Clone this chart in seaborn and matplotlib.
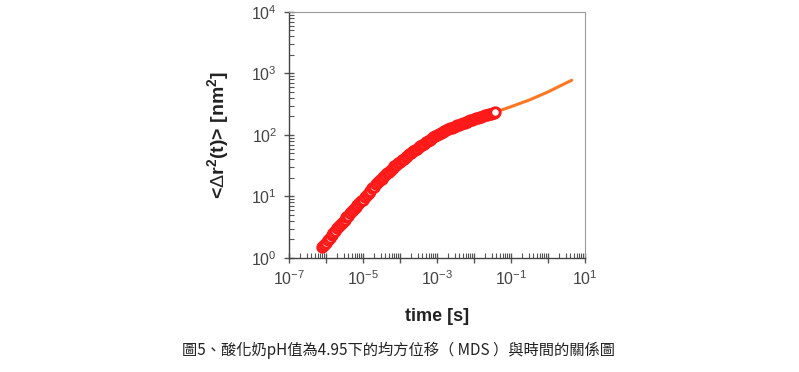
import numpy as np
import pandas as pd
import seaborn as sns
import matplotlib.pyplot as plt
from matplotlib.ticker import LogLocator, FixedLocator

# 데이터 (log10 값, 그림에서 읽음)
red_log_t = [-6.10, -6.05, -6.00, -5.95, -5.90, -5.85, -5.80, -5.75, -5.70, -5.65,
             -5.60, -5.55, -5.50, -5.45, -5.40, -5.35, -5.30, -5.25, -5.20, -5.15,
             -5.10, -5.05, -5.00, -4.95, -4.90, -4.85, -4.80, -4.75, -4.70, -4.65,
             -4.60, -4.55, -4.50, -4.45, -4.40, -4.35, -4.30, -4.25, -4.20, -4.15,
             -4.10, -4.05, -4.00, -3.95, -3.90, -3.85, -3.80, -3.75, -3.70, -3.65,
             -3.60, -3.55, -3.50, -3.45, -3.40, -3.35, -3.30, -3.25, -3.20, -3.15,
             -3.10, -3.05, -3.00, -2.95, -2.90, -2.85, -2.80, -2.75, -2.70, -2.65,
             -2.60, -2.55, -2.50, -2.45, -2.40, -2.35, -2.30, -2.25, -2.20, -2.15,
             -2.10, -2.05, -2.00, -1.95, -1.90, -1.85, -1.80, -1.75, -1.70, -1.65,
             -1.60, -1.55, -1.50, -1.45, -1.43]
red_log_msd = [0.18, 0.21, 0.25, 0.29, 0.33, 0.37, 0.40, 0.44, 0.48, 0.52,
               0.55, 0.59, 0.62, 0.66, 0.69, 0.73, 0.76, 0.80, 0.83, 0.86,
               0.89, 0.92, 0.95, 0.99, 1.02, 1.06, 1.09, 1.13, 1.16, 1.20,
               1.23, 1.26, 1.29, 1.32, 1.35, 1.38, 1.40, 1.43, 1.46, 1.49,
               1.51, 1.54, 1.56, 1.59, 1.61, 1.64, 1.66, 1.69, 1.71, 1.74,
               1.76, 1.78, 1.80, 1.82, 1.84, 1.86, 1.88, 1.90, 1.92, 1.94,
               1.96, 1.98, 2.00, 2.02, 2.03, 2.05, 2.06, 2.08, 2.09, 2.11,
               2.12, 2.13, 2.14, 2.16, 2.17, 2.18, 2.19, 2.20, 2.21, 2.23,
               2.24, 2.25, 2.26, 2.27, 2.28, 2.29, 2.30, 2.31, 2.32, 2.33,
               2.34, 2.345, 2.35, 2.36, 2.37]
orange_log_t = [-1.43, -1.0, -0.5, 0.0, 0.3, 0.64]
orange_log_msd = [2.37, 2.46, 2.57, 2.70, 2.79, 2.89]

x_ticks = [1e-7, 1e-6, 1e-5, 1e-4, 1e-3, 1e-2, 1e-1, 1e0, 1e1]
x_tick_labels = ['$10^{-7}$', '', '$10^{-5}$', '', '$10^{-3}$', '', '$10^{-1}$', '', '$10^{1}$']
y_ticks = [1e0, 1e1, 1e2, 1e3, 1e4]
y_tick_labels = ['$10^{0}$', '$10^{1}$', '$10^{2}$', '$10^{3}$', '$10^{4}$']
caption = '圖5、酸化奶pH值為4.95下的均方位移（ MDS ）與時間的關係圖'

red = pd.DataFrame({'t': 10 ** np.array(red_log_t), 'msd': 10 ** np.array(red_log_msd)})
orange = pd.DataFrame({'t': 10 ** np.array(red_log_t + orange_log_t[1:]),
                       'msd': 10 ** np.array(red_log_msd + orange_log_msd[1:])})

sns.set_style('white')
plt.rcParams['font.family'] = ['Liberation Sans', 'DejaVu Sans']
plt.rcParams['mathtext.fontset'] = 'custom'
plt.rcParams['mathtext.rm'] = 'Liberation Sans'
plt.rcParams['mathtext.bf'] = 'Liberation Sans:bold'

fig = plt.figure(figsize=(7.99, 3.72), dpi=100)
ax = fig.add_axes([0.3617, 0.3065, 0.3705, 0.6613])

sns.lineplot(data=orange, x='t', y='msd', color='#ff7722', linewidth=2.2, ax=ax)
sns.scatterplot(data=red, x='t', y='msd', marker='o', s=46, facecolor='white',
                edgecolor='#ff1a1a', linewidth=2.1, ax=ax, zorder=3)

ax.set_xscale('log')
ax.set_yscale('log')
ax.set_xlim(1e-7, 1e1)
ax.set_ylim(1e0, 1e4)

ax.xaxis.set_major_locator(FixedLocator(x_ticks))
ax.set_xticklabels(x_tick_labels)
ax.xaxis.set_minor_locator(LogLocator(base=10, subs=np.arange(2, 10), numticks=30))
ax.yaxis.set_major_locator(FixedLocator(y_ticks))
ax.set_yticklabels(y_tick_labels)
ax.yaxis.set_minor_locator(LogLocator(base=10, subs=np.arange(2, 10), numticks=30))
ax.xaxis.set_minor_formatter(plt.NullFormatter())
ax.yaxis.set_minor_formatter(plt.NullFormatter())

ax.tick_params(which='major', direction='inout', length=7, width=1, color='#555555',
               labelsize=11.5, labelcolor='#444444', bottom=True, left=True,
               top=False, right=False, pad=5)
ax.tick_params(which='minor', direction='in', length=3.5, width=0.8, color='#555555',
               bottom=True, left=True, top=False, right=False)

for side in ['left', 'bottom']:
    ax.spines[side].set_color('#444444')
    ax.spines[side].set_linewidth(1.0)
for side in ['top', 'right']:
    ax.spines[side].set_color('#999999')
    ax.spines[side].set_linewidth(0.8)

ax.set_xlabel('time [s]', fontsize=13, fontweight='bold', color='#222222', labelpad=14)
ax.set_ylabel(r'<$\Delta$r$^{\mathbf{2}}$(t)> [nm$^{\mathbf{2}}$]', fontsize=14,
              fontweight='bold', color='#222222', labelpad=14)

fig.text(0.499, 0.058, caption, ha='center', va='center', fontsize=11, color='#222222',
         family=['Noto Sans CJK TC', 'DejaVu Sans'])

fig.savefig('out.png', dpi=100)
